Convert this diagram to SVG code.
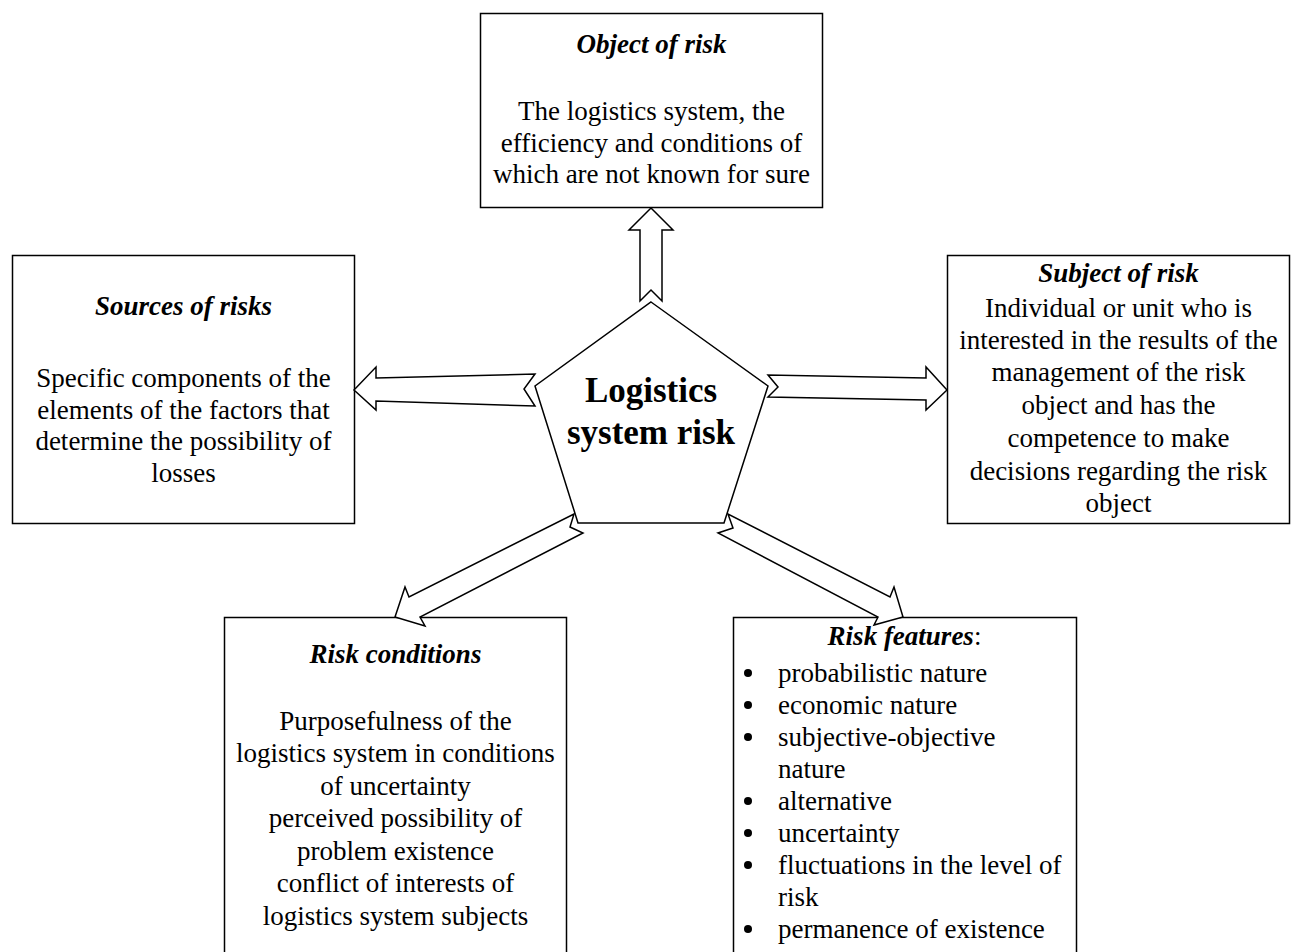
<svg xmlns="http://www.w3.org/2000/svg" width="1297" height="952" viewBox="0 0 1297 952">
  <style>
    .box { fill: #ffffff; stroke: #000000; stroke-width: 1.5; }
    .arrow { fill: #ffffff; stroke: #000000; stroke-width: 1.5; stroke-linejoin: miter; }
    text { font-family: "Liberation Serif", "Times New Roman", serif; font-size: 27px; fill: #000000; }
    .c { text-anchor: middle; }
    .title { font-weight: bold; font-style: italic; }
    .center { font-size: 35px; font-weight: bold; }
  </style>
  <rect width="1297" height="952" fill="#ffffff"/>

  <!-- Object of risk -->
  <g id="object">
    <rect class="box" x="480.5" y="13.5" width="342" height="194"/>
    <text class="c title" x="651.5" y="53">Object of risk</text>
    <text class="c" x="651.5" y="120">The logistics system, the</text>
    <text class="c" x="651.5" y="152">efficiency and conditions of</text>
    <text class="c" x="651.5" y="183">which are not known for sure</text>
  </g>

  <!-- Sources of risks -->
  <g id="sources">
    <rect class="box" x="12.5" y="255.5" width="342" height="268"/>
    <text class="c title" x="183.5" y="315">Sources of risks</text>
    <text class="c" x="183.5" y="387">Specific components of the</text>
    <text class="c" x="183.5" y="419">elements of the factors that</text>
    <text class="c" x="183.5" y="450">determine the possibility of</text>
    <text class="c" x="183.5" y="482">losses</text>
  </g>

  <!-- Subject of risk -->
  <g id="subject">
    <rect class="box" x="947.5" y="255.5" width="342" height="268"/>
    <text class="c title" x="1118.5" y="282">Subject of risk</text>
    <text class="c" x="1118.5" y="317">Individual or unit who is</text>
    <text class="c" x="1118.5" y="349">interested in the results of the</text>
    <text class="c" x="1118.5" y="381">management of the risk</text>
    <text class="c" x="1118.5" y="414">object and has the</text>
    <text class="c" x="1118.5" y="447">competence to make</text>
    <text class="c" x="1118.5" y="480">decisions regarding the risk</text>
    <text class="c" x="1118.5" y="512">object</text>
  </g>

  <!-- Risk conditions -->
  <g id="conditions">
    <rect class="box" x="224.5" y="617.5" width="342" height="345"/>
    <text class="c title" x="395.5" y="663">Risk conditions</text>
    <text class="c" x="395.5" y="730">Purposefulness of the</text>
    <text class="c" x="395.5" y="762">logistics system in conditions</text>
    <text class="c" x="395.5" y="795">of uncertainty</text>
    <text class="c" x="395.5" y="827">perceived possibility of</text>
    <text class="c" x="395.5" y="860">problem existence</text>
    <text class="c" x="395.5" y="892">conflict of interests of</text>
    <text class="c" x="395.5" y="925">logistics system subjects</text>
  </g>

  <!-- Risk features -->
  <g id="features">
    <rect class="box" x="733.5" y="617.5" width="343" height="345"/>
    <text class="c" x="904.5" y="645"><tspan class="title">Risk features</tspan>:</text>
    <g id="feature-bullets">
      <circle cx="748" cy="673" r="4"/>
      <circle cx="748" cy="705" r="4"/>
      <circle cx="748" cy="737" r="4"/>
      <circle cx="748" cy="801" r="4"/>
      <circle cx="748" cy="833" r="4"/>
      <circle cx="748" cy="865" r="4"/>
      <circle cx="748" cy="929" r="4"/>
    </g>
    <text x="778" y="682">probabilistic nature</text>
    <text x="778" y="714">economic nature</text>
    <text x="778" y="746">subjective-objective</text>
    <text x="778" y="778">nature</text>
    <text x="778" y="810">alternative</text>
    <text x="778" y="842">uncertainty</text>
    <text x="778" y="874">fluctuations in the level of</text>
    <text x="778" y="906">risk</text>
    <text x="778" y="938">permanence of existence</text>
  </g>

  <!-- Block arrows from the central node -->
  <g id="connectors">
    <polygon class="arrow" points="651,208 673,230 662,230 662,301 651,290 640,301 640,230 629,230"/>
    <polygon class="arrow" points="354,390 376,367 376,378 535,374 524,389 535,406 376,401 376,410"/>
    <polygon class="arrow" points="947,390 926,367 926,378 768,375 778,387 768,397 926,400 926,410"/>
    <polygon class="arrow" points="395,617 405,587 409,597 574,514 570,527 583,533 420,617 425,626"/>
    <polygon class="arrow" points="903,617 894,587 890,597 728,514 733,528 718,533 878,617 874,625"/>
  </g>

  <!-- Central node -->
  <g id="center">
    <polygon class="box" points="651,302 768,386 724,523 578,523 535,386"/>
    <text class="c center" x="651" y="402">Logistics</text>
    <text class="c center" x="651" y="444">system risk</text>
  </g>
</svg>
